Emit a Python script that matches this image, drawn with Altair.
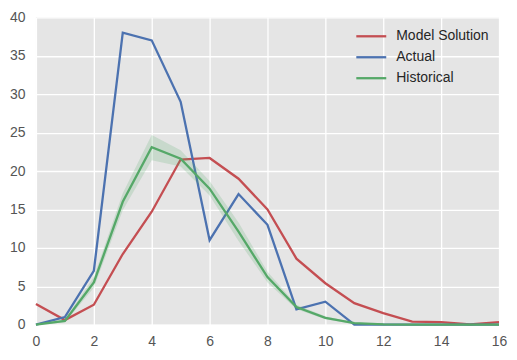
import altair as alt
import pandas as pd

x_vals = list(range(17))
model_solution = [2.7, 0.6, 2.6, 9.2, 14.7, 21.5, 21.7, 19.0, 15.0, 8.6, 5.4, 2.8, 1.5, 0.4, 0.35, 0.05, 0.35]
actual = [0, 1, 7, 38, 37, 29, 11, 17, 13, 2, 3, 0, 0, 0, 0, 0, 0]
historical = [0, 0.5, 5.5, 16.0, 23.1, 21.6, 17.7, 12.1, 6.2, 2.3, 0.9, 0.2, 0.05, 0, 0, 0, 0]
hist_low = [0, 0.3, 4.8, 14.9, 21.4, 20.6, 16.8, 10.9, 5.5, 2.0, 0.7, 0.1, 0, 0, 0, 0, 0]
hist_high = [0, 0.7, 6.2, 17.1, 24.7, 22.7, 18.7, 13.3, 6.9, 2.6, 1.1, 0.3, 0.1, 0, 0, 0, 0]

series_names = ["Model Solution", "Actual", "Historical"]
series_colors = ["#C44E52", "#4C72B0", "#55A868"]

rows = []
for name, vals in zip(series_names, [model_solution, actual, historical]):
    for x, v in zip(x_vals, vals):
        rows.append({"x": x, "y": v, "series": name})
df = pd.DataFrame(rows)
band_df = pd.DataFrame({"x": x_vals, "lo": hist_low, "hi": hist_high})

xscale = alt.Scale(domain=[0, 16], nice=False)
yscale = alt.Scale(domain=[0, 40], nice=False)

xaxis = alt.Axis(values=list(range(0, 17, 2)), title=None, labelPadding=10, labelFlush=False)
yaxis = alt.Axis(values=list(range(0, 41, 5)), title=None, labelPadding=11, labelFlush=False)

band = alt.Chart(band_df).mark_area(color="#55A868", opacity=0.2).encode(
    x=alt.X("x:Q", scale=xscale, axis=xaxis),
    y=alt.Y("lo:Q", scale=yscale, axis=yaxis),
    y2="hi:Q",
)

def line_for(name):
    return alt.Chart(df[df.series == name]).mark_line(strokeWidth=2.3).encode(
        x=alt.X("x:Q", scale=xscale, axis=xaxis),
        y=alt.Y("y:Q", scale=yscale, axis=yaxis),
        color=alt.Color(
            "series:N",
            scale=alt.Scale(domain=series_names, range=series_colors),
            legend=alt.Legend(
                title=None,
                orient="none",
                legendX=329,
                legendY=12,
                symbolType="M-3.0,0H3.0",
                symbolSize=100,
                symbolStrokeWidth=2.3,
                labelFontSize=14,
                labelColor="#262626",
                labelFont="Liberation Sans",
                labelOffset=18,
                rowPadding=7,
            ),
        ),
    )

chart = alt.layer(
    line_for("Model Solution"), line_for("Actual"), band, line_for("Historical")
).properties(
    width=464,
    height=308,
    padding={"left": 28, "top": 9, "right": 10, "bottom": 30},
    autosize=alt.AutoSizeParams(type="none"),
).configure_view(
    fill="#E5E5E5", stroke=None
).configure_axis(
    grid=True,
    gridColor="#FFFFFF",
    gridWidth=1.3,
    domain=False,
    ticks=False,
    labelFont="Liberation Sans",
    labelFontSize=14,
    labelColor="#555555",
)

chart.save("out.html", embed_options={"renderer": "svg", "actions": False})
